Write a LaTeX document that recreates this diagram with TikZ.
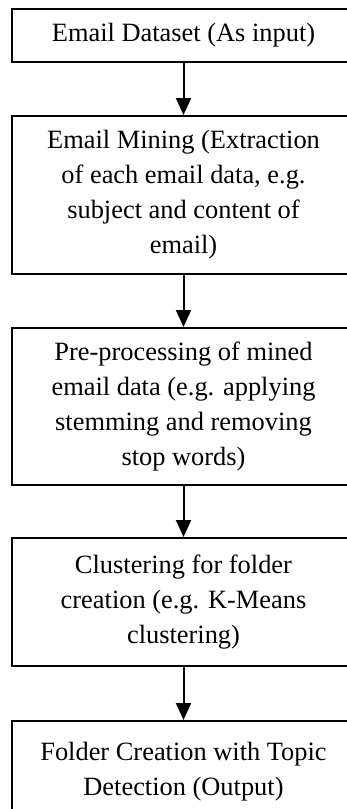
\documentclass[tikz,border=0pt]{standalone}
\usepackage{fontspec}
\setmainfont{Liberation Serif}
\usetikzlibrary{arrows.meta}
\begin{document}
\begin{tikzpicture}[x=1pt,y=-1pt,
  stepbox/.style={draw=black, line width=2pt, minimum width=343pt, align=center, inner sep=0pt,
    font=\fontsize{26.4}{35}\selectfont},
  flow/.style={line width=2pt, -{Triangle[width=15pt,length=17pt]}}]
\useasboundingbox (0,0) rectangle (347,809);
\clip (0,0) rectangle (347,809);
\fill[white] (0,0) rectangle (347,809);
\node[stepbox, minimum height=53pt] (b1) at (183.5,35.5) {Email Dataset (As input)};
\node[stepbox, minimum height=158pt] (b2) at (183.5,195) {Email Mining (Extraction\\of each email data, e.g.\\subject and content of\\email)};
\node[stepbox, minimum height=157pt] (b3) at (183.5,406.5) {Pre-processing of mined\\email data (e.g. applying\\stemming and removing\\stop words)};
\node[stepbox, minimum height=128pt] (b4) at (183.5,602) {Clustering for folder\\creation (e.g. K-Means\\clustering)};
\node[stepbox, minimum height=95pt, anchor=north] (b5) at (183.5,720) {\strut Folder Creation with Topic\\Detection (Output)};
\draw[flow] (b1.south) -- (b2.north);
\draw[flow] (b2.south) -- (b3.north);
\draw[flow] (b3.south) -- (b4.north);
\draw[flow] (b4.south) -- (b5.north);
\end{tikzpicture}
\end{document}
